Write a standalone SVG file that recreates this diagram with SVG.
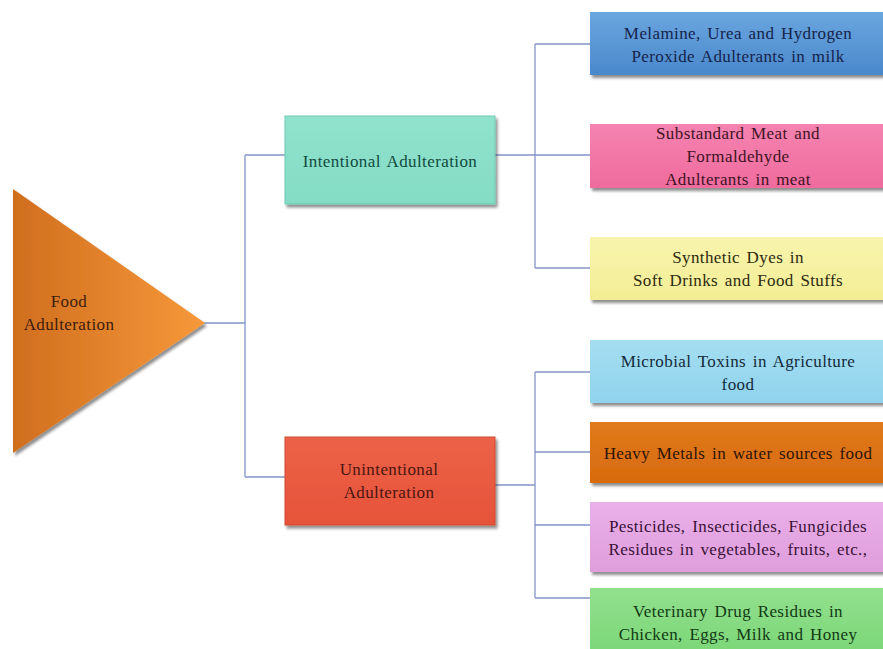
<svg xmlns="http://www.w3.org/2000/svg" width="883" height="649" viewBox="0 0 883 649">
<style>
text{font-family:"Liberation Serif","Times New Roman",serif;font-size:17px;letter-spacing:0.4px;word-spacing:2px;text-anchor:middle}
.con{fill:none;stroke:#8494c8;stroke-width:1.3}
.box{filter:url(#sh)}
</style>
<defs>
<filter id="sh" x="-5%" y="-10%" width="115%" height="130%">
<feGaussianBlur in="SourceAlpha" stdDeviation="1.5"/>
<feOffset dx="1.5" dy="2.5" result="b"/>
<feComponentTransfer><feFuncA type="linear" slope="0.45"/></feComponentTransfer>
<feMerge><feMergeNode/><feMergeNode in="SourceGraphic"/></feMerge>
</filter>
<linearGradient id="gTri" x1="0" y1="0" x2="1" y2="0">
<stop offset="0" stop-color="#d06e1e"/><stop offset="1" stop-color="#f7983a"/>
</linearGradient>
<linearGradient id="gBlue" x1="0" y1="0" x2="0" y2="1"><stop offset="0" stop-color="#6aa6df"/><stop offset="1" stop-color="#4a88cc"/></linearGradient>
<linearGradient id="gPink" x1="0" y1="0" x2="0" y2="1"><stop offset="0" stop-color="#f583b0"/><stop offset="1" stop-color="#ef6b9d"/></linearGradient>
<linearGradient id="gYel" x1="0" y1="0" x2="0" y2="1"><stop offset="0" stop-color="#f8f4ae"/><stop offset="1" stop-color="#f3ee94"/></linearGradient>
<linearGradient id="gLb" x1="0" y1="0" x2="0" y2="1"><stop offset="0" stop-color="#a5def2"/><stop offset="1" stop-color="#8fd3ec"/></linearGradient>
<linearGradient id="gOr" x1="0" y1="0" x2="0" y2="1"><stop offset="0" stop-color="#e07a1c"/><stop offset="1" stop-color="#d86a0e"/></linearGradient>
<linearGradient id="gVi" x1="0" y1="0" x2="0" y2="1"><stop offset="0" stop-color="#eab0ea"/><stop offset="1" stop-color="#df9ddc"/></linearGradient>
<linearGradient id="gGr" x1="0" y1="0" x2="0" y2="1"><stop offset="0" stop-color="#92e08e"/><stop offset="1" stop-color="#7ad676"/></linearGradient>
<linearGradient id="gTeal" x1="0" y1="0" x2="0" y2="1"><stop offset="0" stop-color="#90e2cc"/><stop offset="1" stop-color="#84dcc4"/></linearGradient>
<linearGradient id="gRed" x1="0" y1="0" x2="0" y2="1"><stop offset="0" stop-color="#ec6248"/><stop offset="1" stop-color="#e6533a"/></linearGradient>
</defs>

<g id="connectors">
<path class="con" d="M203 323 H245 M245 155 V477 M245 155 H285 M245 477 H285"/>
<path class="con" d="M495 155 H535 M535 44 V268 M535 44 H590 M535 155 H590 M535 268 H590"/>
<path class="con" d="M495 485 H535 M535 372 V598 M535 372 H590 M535 452 H590 M535 525 H590 M535 598 H590"/>
</g>

<g id="food-adulteration">
<polygon class="box" points="13,189 205,323 13,453" fill="url(#gTri)"/>
<text x="69" y="307" fill="#3b1d10">Food</text>
<text x="69" y="330" fill="#3b1d10">Adulteration</text>
</g>

<g id="intentional">
<rect class="box" x="285" y="116" width="210" height="88" fill="url(#gTeal)" stroke="#6ccbb2" stroke-width="1"/>
<text x="390" y="167" fill="#124a40">Intentional Adulteration</text>
</g>

<g id="unintentional">
<rect class="box" x="285" y="437" width="210" height="88" fill="url(#gRed)" stroke="#d04a32" stroke-width="1"/>
<text x="389" y="475" fill="#4a1510">Unintentional</text>
<text x="389" y="498" fill="#4a1510">Adulteration</text>
</g>

<g id="melamine">
<rect class="box" x="590" y="12" width="300" height="63" fill="url(#gBlue)"/>
<text x="738" y="39" fill="#15244a">Melamine, Urea and Hydrogen</text>
<text x="738" y="62" fill="#15244a">Peroxide Adulterants in milk</text>
</g>

<g id="meat">
<rect class="box" x="590" y="124" width="300" height="64" fill="url(#gPink)"/>
<text x="738" y="139" fill="#3e1424">Substandard Meat and</text>
<text x="738" y="162" fill="#3e1424">Formaldehyde</text>
<text x="738" y="185" fill="#3e1424">Adulterants in meat</text>
</g>

<g id="dyes">
<rect class="box" x="590" y="237" width="300" height="63" fill="url(#gYel)"/>
<text x="738" y="263" fill="#2e2a12">Synthetic Dyes in</text>
<text x="738" y="286" fill="#2e2a12">Soft Drinks and Food Stuffs</text>
</g>

<g id="microbial">
<rect class="box" x="590" y="340" width="300" height="63" fill="url(#gLb)"/>
<text x="738" y="367" fill="#142a3a">Microbial Toxins in Agriculture</text>
<text x="738" y="390" fill="#142a3a">food</text>
</g>

<g id="metals">
<rect class="box" x="590" y="422" width="300" height="61" fill="url(#gOr)"/>
<text x="738" y="459" fill="#2e1406">Heavy Metals in water sources food</text>
</g>

<g id="pesticides">
<rect class="box" x="590" y="502" width="300" height="70" fill="url(#gVi)"/>
<text x="738" y="532" fill="#3a1238">Pesticides, Insecticides, Fungicides</text>
<text x="738" y="555" fill="#3a1238">Residues in vegetables, fruits, etc.,</text>
</g>

<g id="veterinary">
<rect class="box" x="590" y="588" width="300" height="70" fill="url(#gGr)"/>
<text x="738" y="617" fill="#123a14">Veterinary Drug Residues in</text>
<text x="738" y="640" fill="#123a14">Chicken, Eggs, Milk and Honey</text>
</g>
</svg>
